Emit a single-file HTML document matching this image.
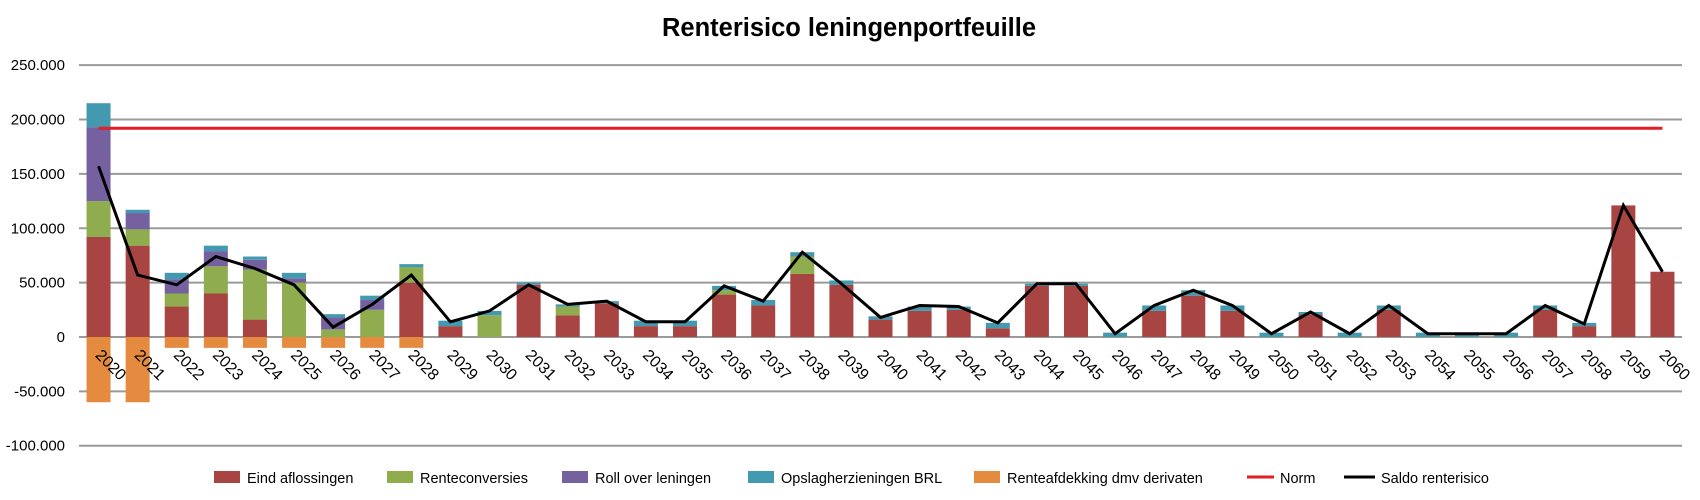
<!DOCTYPE html>
<html><head><meta charset="utf-8">
<style>
html,body{margin:0;padding:0;background:#fff;}
svg{display:block;font-family:"Liberation Sans",sans-serif;}
</style></head>
<body>
<svg id="c" width="1700" height="500" xmlns="http://www.w3.org/2000/svg">
<text x="849" y="36" text-anchor="middle" font-size="25.5" font-weight="bold" fill="#000">Renterisico leningenportfeuille</text>
</svg>
<script>
const svg=document.getElementById('c');
const NS='http://www.w3.org/2000/svg';
function el(t,a,txt){const e=document.createElementNS(NS,t);for(const k in a)e.setAttribute(k,a[k]);if(txt!==undefined)e.textContent=txt;svg.appendChild(e);return e;}
const y0=337,k=1.0874;
const Y=v=>y0-v*k;
const L=79,R=1682,cw=(R-L)/41;
const X=i=>L+cw*(i+0.5);
for(let v=-100;v<=250;v+=50){
  el('line',{x1:L,x2:R,y1:Y(v),y2:Y(v),stroke:'#9a9a9a','stroke-width':2});
  el('text',{x:65,y:Y(v)+5,'text-anchor':'end','font-size':15,fill:'#000'},v===0?'0':(v<0?'-':'')+Math.abs(v)+'.000');
}
const d=[
[92,33,68,22,-60,157],[84,15,15,3,-60,57],[28,12,13,6,-10,48],[40,25,14,5,-10,74],
[16,46,9,3,-10,63],[0,50,4,5,-10,48],[0,7,11,3,-10,9],[0,25,9,4,-10,30],
[50,14,0,3,-10,57],[10,0,0,5,0,14],[0,20,0,4,0,24],[48,0,0,2,0,48],
[20,8,0,2,0,30],[31,0,0,2,0,33],[10,0,0,5,0,14],[10,0,0,5,0,14],
[39,4,0,4,0,47],[29,0,0,5,0,33],[58,16,0,4,0,78],[48,0,0,4,0,49],
[16,0,0,3,0,18],[24,0,0,4,0,29],[25,0,0,3,0,28],[8,0,0,5,0,13],
[47,0,0,2,0,49],[47,0,0,2,0,49],[0,0,0,4,0,3],[24,0,0,5,0,29],
[38,0,0,5,0,43],[24,0,0,5,0,29],[0,0,0,4,0,3],[21,0,0,2,0,23],
[0,0,0,4,0,3],[25,0,0,4,0,29],[0,0,0,4,0,3],[0,0,0,4,0,3],
[0,0,0,4,0,3],[25,0,0,4,0,29],[10,0,0,3,0,12],[121,0,0,0,0,121],[60,0,0,0,0,60]];
const cols=['#A84442','#8FAC4F','#7561A0','#4399AF','#E48B40'];
const bw=24;
d.forEach((r,i)=>{
  let base=0;
  for(let s=0;s<4;s++){ if(r[s]>0){ el('rect',{x:X(i)-bw/2,y:Y(base+r[s]),width:bw,height:r[s]*k,fill:cols[s]}); base+=r[s]; } }
  if(r[4]<0) el('rect',{x:X(i)-bw/2,y:Y(0),width:bw,height:-r[4]*k,fill:cols[4]});
});
el('line',{x1:X(0),x2:X(40),y1:Y(192),y2:Y(192),stroke:'#E31E24','stroke-width':3});
el('polyline',{points:d.map((r,i)=>X(i)+','+Y(r[5])).join(' '),fill:'none',stroke:'#000','stroke-width':3,'stroke-linejoin':'miter'});
d.forEach((r,i)=>{
  const x=X(i)-4,y=356;
  el('text',{x:x,y:y,'font-size':16,fill:'#000',transform:`rotate(45 ${x} ${y})`},String(2020+i));
});
const ly=479;
const leg=[[214,'Eind aflossingen',0],[387,'Renteconversies',1],[562,'Roll over leningen',2],[748,'Opslagherzieningen BRL',3],[974,'Renteafdekking dmv derivaten',4]];
leg.forEach(([x,t,c])=>{el('rect',{x:x,y:ly-8,width:26,height:12,fill:cols[c]});el('text',{x:x+33,y:ly+4,'font-size':14.5,fill:'#000'},t);});
el('line',{x1:1247,x2:1274,y1:ly-2,y2:ly-2,stroke:'#E31E24','stroke-width':3});
el('text',{x:1280,y:ly+4,'font-size':14.5,fill:'#000'},'Norm');
el('line',{x1:1344,x2:1375,y1:ly-2,y2:ly-2,stroke:'#000','stroke-width':3});
el('text',{x:1381,y:ly+4,'font-size':14.5,fill:'#000'},'Saldo renterisico');
</script>
</body></html>
